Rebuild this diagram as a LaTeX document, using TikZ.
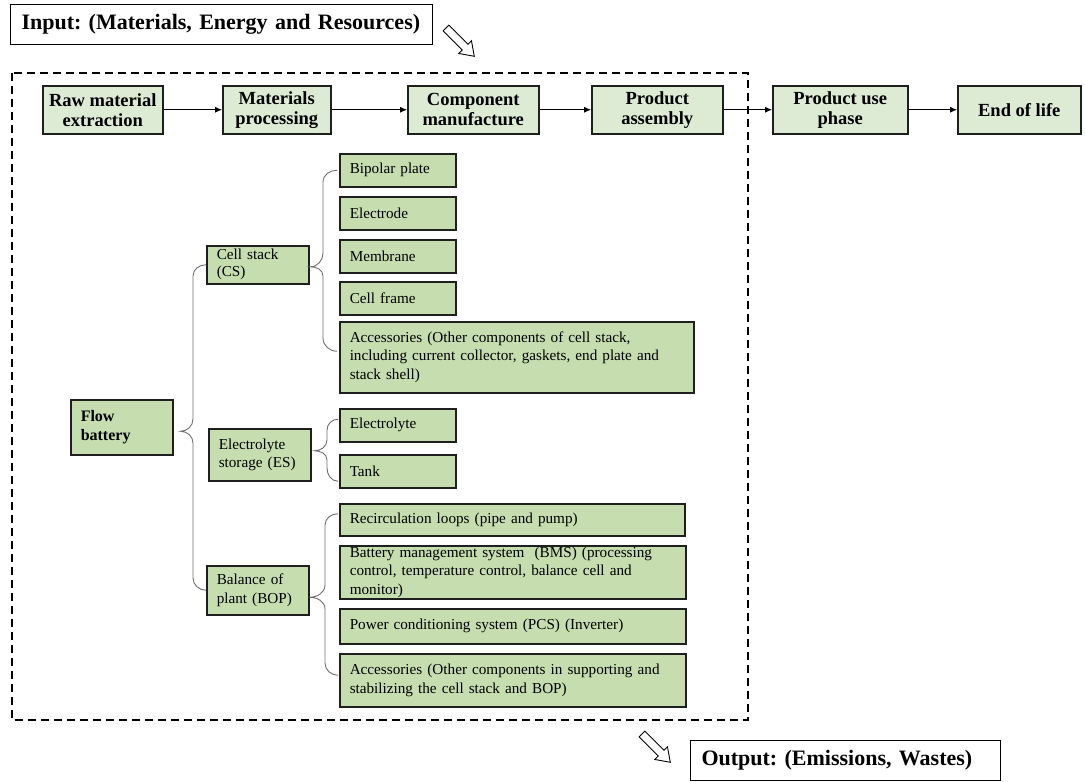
\documentclass[tikz,border=0pt]{standalone}
\usepackage{fontspec}
\setmainfont{Liberation Serif}
\usetikzlibrary{arrows.meta,calc}
\frenchspacing
\definecolor{topfill}{HTML}{DDEBD5}
\definecolor{subfill}{HTML}{C5DDAF}
\definecolor{edge}{HTML}{1F1F1F}
\definecolor{bracec}{HTML}{6E6E6E}
\tikzset{
  topbox/.style={draw=edge,line width=1.5pt,fill=topfill,align=center,inner sep=2pt,
    font=\bfseries\fontsize{18.5}{20}\selectfont,anchor=north west},
  subbox/.style={draw=edge,line width=1.5pt,fill=subfill,align=left,inner xsep=10pt,inner ysep=0pt,
    font=\fontsize{15.2}{18.5}\selectfont,anchor=north west},
  iobox/.style={draw=black,line width=1pt,fill=white,inner xsep=11pt,inner ysep=2pt,align=left,
    font=\bfseries\fontsize{22}{24}\selectfont,anchor=north west},
  flow/.style={-{Latex[length=7pt,width=6pt]},line width=0.8pt,black},
  brace/.style={draw=bracec,line width=0.9pt},
  hollow/.style={draw=black,line width=0.9pt,fill=white}
}
\begin{document}
\begin{tikzpicture}[x=1pt,y=-1pt]
\useasboundingbox (0,0) rectangle (1085,782);
% input / output
\node[iobox,minimum width=422,minimum height=40,text width=400] (in) at (10,4) {Input: (Materials, Energy and Resources)};
\node[iobox,minimum width=310,minimum height=40,text width=288] (out) at (690,740) {Output: (Emissions, Wastes)};
\begin{scope}[shift={(446,28)},rotate=-45]
  \draw[hollow] (0,-4) -- (27,-4) -- (27,-9) -- (40,0) -- (27,9) -- (27,4) -- (0,4) -- cycle;
\end{scope}
\begin{scope}[shift={(642,734)},rotate=-45]
  \draw[hollow] (0,-4) -- (27,-4) -- (27,-9) -- (40,0) -- (27,9) -- (27,4) -- (0,4) -- cycle;
\end{scope}
% dashed boundary
\draw[line width=1.6pt,dash pattern=on 8pt off 5pt] (12,73) rectangle (748,720);
% top row
\node[topbox,minimum width=120,minimum height=48] (raw) at (42,85) {Raw material\\extraction};
\node[topbox,minimum width=108,minimum height=48] (mat) at (222,85) {Materials\\processing};
\node[topbox,minimum width=131,minimum height=48] (comp) at (407,85) {Component\\manufacture};
\node[topbox,minimum width=131,minimum height=48] (prod) at (591,85) {Product\\assembly};
\node[topbox,minimum width=135,minimum height=48] (use) at (772,85) {Product use\\phase};
\node[topbox,minimum width=123,minimum height=48] (eol) at (957,85) {End of life};
\draw[flow] (raw) -- (mat);
\draw[flow] (mat) -- (comp);
\draw[flow] (comp) -- (prod);
\draw[flow] (prod) -- (use);
\draw[flow] (use) -- (eol);
% hierarchy
\node[subbox,font=\bfseries\fontsize{16}{19}\selectfont,minimum width=102,minimum height=55,text width=82] (fb) at (70,399) {Flow\\battery};
\node[subbox,minimum width=102,minimum height=38,text width=82,font=\fontsize{15.2}{17}\selectfont] (cs) at (206,245) {Cell stack\\(CS)};
\node[subbox,minimum width=102,minimum height=52,text width=82] (es) at (208,428) {Electrolyte\\storage (ES)};
\node[subbox,minimum width=102,minimum height=49,text width=82] (bop) at (206,565) {Balance of\\plant (BOP)};
% CS items
\node[subbox,minimum width=116,minimum height=33,text width=96] (bp) at (339,153) {Bipolar plate};
\node[subbox,minimum width=116,minimum height=33,text width=96] (ed) at (339,196) {Electrode};
\node[subbox,minimum width=116,minimum height=33,text width=96] (mb) at (339,239) {Membrane};
\node[subbox,minimum width=116,minimum height=33,text width=96] (cf) at (339,281) {Cell frame};
\node[subbox,minimum width=354,minimum height=71,text width=334] (acc1) at (339,321) {Accessories (Other components of cell stack,\\including current collector, gaskets, end plate and\\stack shell)};
% ES items
\node[subbox,minimum width=116,minimum height=33,text width=96] (el) at (339,408) {Electrolyte};
\node[subbox,minimum width=116,minimum height=33,text width=96] (tk) at (339,454) {Tank};
% BOP items
\node[subbox,minimum width=345,minimum height=32,text width=325] (rec) at (339,503) {Recirculation loops (pipe and pump)};
\node[subbox,minimum width=346,minimum height=53,text width=326] (bms) at ($(339,545)+(0,0)$) {Battery management system\ \ (BMS) (processing\\control, temperature control, balance cell and\\monitor)};
\node[subbox,minimum width=346,minimum height=35,text width=326] (pcs) at (339,608) {Power conditioning system (PCS) (Inverter)};
\node[subbox,minimum width=346,minimum height=53,text width=326] (acc2) at (339,653) {Accessories (Other components in supporting and\\stabilizing the cell stack and BOP)};
% braces
\draw[brace] (cs.west) to[out=180,in=90] (193,276) -- (193,419) to[out=-90,in=0] ($(fb.east)+(7,4)$)
  to[out=0,in=90] (193,443) -- (193,578) to[out=-90,in=180] (bop.west);
\draw[brace] ($(bp.west)+(-2,0)$) to[out=180,in=90] (323,182) -- (323,253) to[out=-90,in=0] ($(cs.east)+(1,2)$)
  to[out=0,in=90] (323,276) -- (323,338) to[out=-90,in=180] ($(acc1.west)+(-2,-6)$);
\draw[brace] ($(el.west)+(-1,-6)$) to[out=180,in=90] (327,430) -- (327,440) to[out=-90,in=0] ($(es.east)+(3,-4)$)
  to[out=0,in=90] (327,460) -- (327,468) to[out=-90,in=180] ($(tk.west)+(-1,10)$);
\draw[brace] ($(rec.west)+(-1,-6)$) to[out=180,in=90] (325,525) -- (325,585) to[out=-90,in=0] ($(bop.east)+(0,7)$)
  to[out=0,in=90] (325,609) -- (325,663) to[out=-90,in=180] ($(acc2.west)+(-1,-5)$);
\end{tikzpicture}
\end{document}
